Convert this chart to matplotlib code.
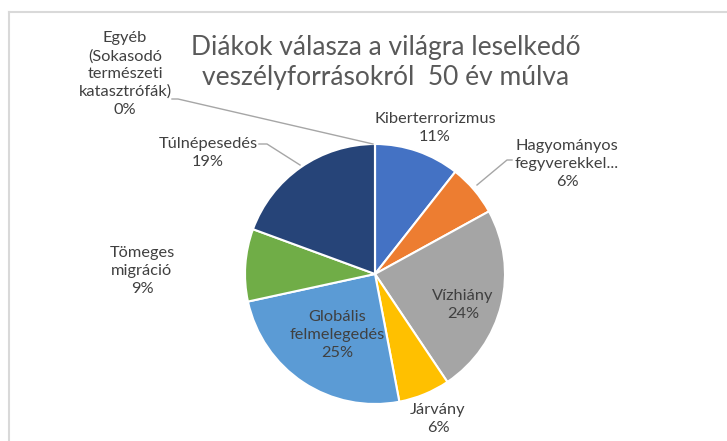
import matplotlib
matplotlib.use('Agg')
import matplotlib.pyplot as plt
from matplotlib.lines import Line2D

plt.rcParams['font.family'] = ['Lato', 'DejaVu Sans']

# data
categories = ['Kiberterrorizmus', 'Hagyományos\nfegyverekkel...', 'Vízhiány', 'Járvány',
              'Globális\nfelmelegedés', 'Tömeges\nmigráció', 'Túlnépesedés',
              'Egyéb\n(Sokasodó\ntermészeti\nkatasztrófák)']
values = [10.6, 6.4, 23.6, 6.4, 24.6, 9.0, 19.4, 0.0]
colors = ['#4472C4', '#ED7D31', '#A5A5A5', '#FFC000', '#5B9BD5', '#70AD47', '#264478', '#9E480E']

W, H = 727, 441
fig = plt.figure(figsize=(W / 100, H / 100), dpi=100)
ax = fig.add_axes([0, 0, 1, 1])

# pie (y axis flipped, so counterclock=True draws clockwise on screen)
cx, cy, r = 375, 274, 130
ax.pie(values, colors=colors, radius=r, center=(cx, cy), startangle=-90,
       counterclock=True, wedgeprops=dict(edgecolor='white', linewidth=1.5),
       frame=True)
ax.set_xlim(0, W)
ax.set_ylim(H, 0)
ax.set_aspect('equal')
ax.axis('off')

# chart frame (light gray, continues past the crop)
ax.add_line(Line2D([8.5, 8.5], [H + 5, 11.5], color='#D9D9D9', lw=1.5))
ax.add_line(Line2D([8.5, W + 5], [11.5, 11.5], color='#D9D9D9', lw=1.5))

ax.text(386, 62, 'Diákok válasza a világra leselkedő\nveszélyforrásokról  50 év múlva',
        ha='center', va='center', fontsize=19, color='#595959', linespacing=1.25)

tc = '#404040'
total = sum(values)
pct = [f'{round(v / total * 100):.0f}%' for v in values]
# label centers (screen pixels)
label_pos = [(435, 128), (567, 164), (463, 305), (438, 419),
             (337, 335), (142, 271), (208, 153), (125, 74)]
for name, p, (lx, ly) in zip(categories, pct, label_pos):
    ax.text(lx, ly, f'{name}\n{p}', ha='center', va='center', fontsize=11.8,
            color=tc, linespacing=1.33)

# leader lines
lc = '#A6A6A6'
ax.add_line(Line2D([172, 178, 373], [99, 99, 144], color=lc, lw=1))
ax.add_line(Line2D([512, 507, 477], [160, 160, 185], color=lc, lw=1))
ax.add_line(Line2D([259, 267, 300], [144, 144, 165], color=lc, lw=1))

fig.savefig('out.png', dpi=100)
